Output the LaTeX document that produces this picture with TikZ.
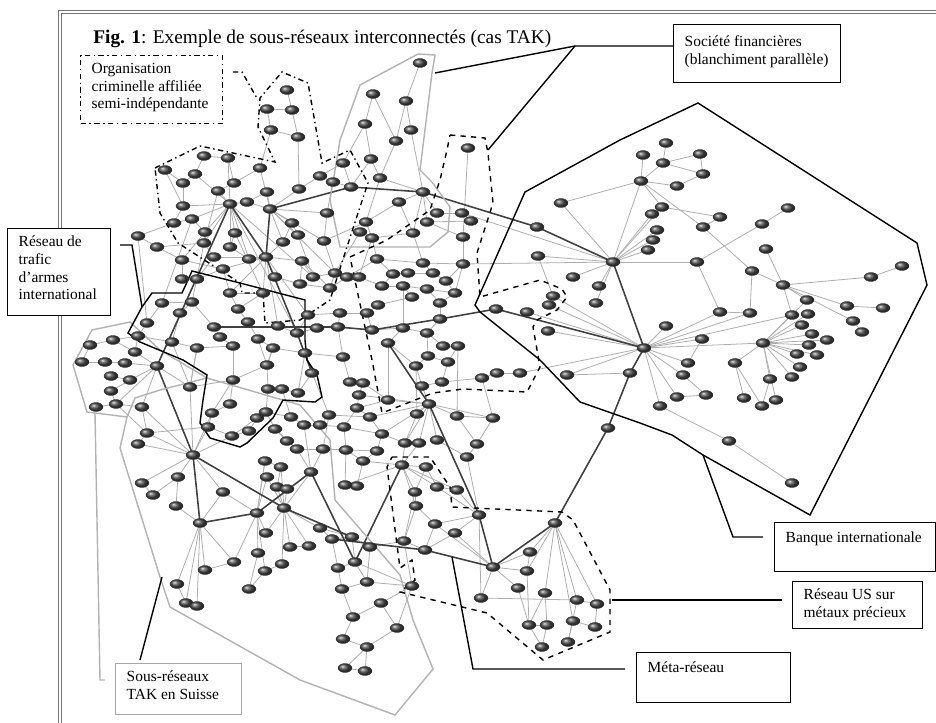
\documentclass[tikz,border=0pt]{standalone}
\usepackage{fontspec}
\setmainfont{Liberation Serif}
\usetikzlibrary{shapes.geometric}
\newcommand{\labelfont}{\fontsize{8.8}{10}\selectfont}
\newcommand{\labeltext}[3]{\parbox[c][#2][t]{#1}{\raggedright #3}}

\begin{document}
\begin{tikzpicture}[x=0.02cm, y=-0.02cm,
  actor/.style={ellipse, inner sep=0pt, minimum width=0.28cm, minimum height=0.18cm,
    ball color=black!70, draw=black!80, line width=0.2pt},
  link/.style={draw=black!32, line width=0.45pt},
  meta/.style={draw=black!75, line width=0.9pt},
  zone/.style={draw=black, line width=0.8pt},
  grayzone/.style={draw=black!30, line width=0.8pt},
  leader/.style={draw=black, line width=0.8pt},
  labelbox/.style={draw, fill=white, anchor=north west, inner xsep=0.22cm,
    inner ysep=0.15cm, line width=0.8pt, font=\labelfont}]

  \useasboundingbox (0,0) rectangle (936,723);

  % actors
  \foreach \n/\x/\y in {o1/287/90, o2/267/109, o3/292/110, o4/271/130, o5/298/137,
    t1/204/156, t2/228/158, t3/260/168, t4/165/170, t5/195/174, t6/183/183, t7/234/183,
    t8/218/191, t9/267/192, t10/299/189, t11/320/176, t12/333/182, t13/343/163, t14/351/187,
    t15/183/206, t16/230/204, t17/247/202, t18/270/209, t19/327/213, t20/174/223, t21/192/219,
    t22/205/232, t23/235/233, t24/292/223, t25/138/236, t26/157/247, t27/204/243, t28/230/247,
    t29/283/242, t30/298/235, t31/324/241, t32/214/257, t33/249/259, t34/266/257, t35/302/261,
    t36/182/260, t37/223/269, t38/275/277, t39/300/284, t40/313/277, t41/335/273, t42/182/279,
    t43/197/279, t44/230/293, t45/263/293, t46/330/288, t48/162/303, t49/192/302, t50/238/309,
    t51/308/315, t52/340/313, t53/147/323, t54/248/322, t55/214/327, t56/278/326, t57/297/333,
    t58/317/328, t59/338/327, t60/138/336, t61/220/337, t62/258/339, t63/172/342, t64/197/348,
    t65/233/346, t66/273/348, t67/305/353, t68/343/357, t69/267/365, t70/180/313}
    \coordinate (\n) at (\x,\y);
  \foreach \n/\x/\y in {l1/90/345, l2/113/340, l3/135/352, l4/82/362, l5/105/362, l6/125/363,
    l7/157/366, l8/111/376, l9/130/380, l10/111/391, l11/96/407, l12/116/404, l13/142/407,
    l14/190/387,
    s1/420/63, s2/373/94, s3/406/101, s4/365/124, s5/411/130, s6/396/141, s7/371/159,
    s8/380/178, s9/423/192, s10/399/202, s11/437/213, s12/366/222, s13/427/222, s14/360/232,
    s15/372/238, s16/413/233, s17/468/148, s18/462/213, s19/471/221, s20/463/237}
    \coordinate (\n) at (\x,\y);
  \foreach \n/\x/\y in {c1/377/259, c2/423/263, c3/463/264, c4/347/277, c5/359/277, c6/393/274,
    c7/408/273, c8/433/273, c9/446/281, c11/382/286, c12/403/286, c13/427/289, c14/455/293,
    c15/412/297, c16/378/305, c17/440/303, c18/367/313, c19/440/319, c20/372/330, c21/403/328,
    c22/427/333, c25/388/343, c26/443/346, c27/458/346, c28/428/356, c29/448/362, c30/416/366,
    c31/350/382, c32/363/383, c33/422/386, c34/442/382, c35/482/378, c36/497/373, c37/520/373,
    c38/388/400, c39/359/395, c40/357/408, c41/370/417, c42/429/404, c43/417/414, c44/457/416,
    c45/493/418, c46/344/427, c47/382/434, c48/405/443, c49/419/443, c50/437/440, c51/477/444,
    c52/467/457, c54/377/451, c55/363/461, c56/402/465, c57/426/467, c59/357/486, c60/437/487,
    c61/457/490, c62/415/492, c63/416/506, c64/479/515, c65/435/524, c66/455/533, c67/352/537,
    c68/370/547, c69/404/541, c70/425/550, c71/355/562, c72/367/582, c73/342/589, c74/412/586,
    c75/381/603, c76/353/617, c77/397/628, c78/343/639, c79/367/647, c80/345/668, c81/365/671}
    \coordinate (\n) at (\x,\y);
  \foreach \n/\x/\y in {m1/233/380, m3/268/389, m4/282/389, m5/298/393, m6/312/373, m7/230/404,
    m8/212/413, m9/266/412, m10/257/418, m11/291/417, m12/329/415, m13/208/427, m14/232/436,
    m15/249/431, m16/275/429, m17/304/425, m18/320/425, m20/147/433, m21/138/444, m22/193/455,
    m23/287/441, m24/297/449, m25/323/449, m26/346/450, m27/265/461, m28/281/467, m29/311/472,
    m30/267/477, m31/142/483, m32/178/477, m33/277/487, m34/287/489, m35/345/485, m36/153/495,
    m37/223/492, m38/176/506, m39/257/513, m40/284/508, m41/200/523, m42/266/533, m43/320/528,
    m45/332/539, m46/258/553, m47/290/547, m48/309/546, m49/234/562, m50/205/570, m51/282/564,
    m52/265/571, m53/338/568, m54/177/584, m55/249/589, m56/186/603, m57/197/606}
    \coordinate (\n) at (\x,\y);
  \foreach \n/\x/\y in {b1/666/143, b2/643/155, b3/663/163, b4/700/154, b5/703/174, b6/641/181,
    b7/677/186, b8/662/207, b9/652/214, b10/720/217, b11/703/227, b12/657/230, b13/653/240,
    b14/648/250, b15/613/262, b16/697/262, b17/762/224, b18/788/208, b19/720/312, b20/766/249,
    b21/752/271, b22/783/285, b23/750/313, b24/807/300, b25/871/277, b26/902/266, b27/847/306,
    b28/883/308, b29/853/321, b30/862/332, b31/792/315, b32/808/314, b33/802/325, b34/812/334,
    b35/827/340, b36/809/345, b37/797/354, b38/817/355, b39/800/367, b40/792/377, b41/763/343,
    b42/770/379, b43/735/363, b44/744/398, b45/762/406, b46/776/400, b48/644/348, b49/666/326,
    b50/702/339, b51/688/363, b52/683/375, b53/677/397, b54/660/406, b55/630/373, b56/706/395,
    b57/729/441, b58/792/483, b59/608/428, b60/561/203, b61/537/227, b62/538/256, b63/573/277,
    b64/599/286, b65/596/303, b66/553/296, b67/549/305, b68/496/309, b69/527/312, b70/548/331,
    b71/567/375,
    u1/555/523, u2/530/552, u3/493/567, u4/527/571, u5/518/588, u6/545/593, u7/481/598,
    u8/577/600, u9/597/604, u10/529/625, u11/547/625, u12/573/621, u13/595/627, u14/568/642,
    u15/542/647}
    \coordinate (\n) at (\x,\y);

  % light links
  \foreach \a/\b in {o1/o3, o2/o3, o2/o4, o3/o5, o4/o5, o5/t10, o4/t3,
    t1/t2, t1/t5, t4/t6, t5/t6, t2/t7, t3/t7, t7/t8, t8/t16, t6/t15, t15/t16, t16/t17, t17/t18,
    t3/t18, t9/t18, t10/t18, t11/t12, t12/t14, t13/t14, t13/t11, t10/t11, t16/t21, t16/t22,
    t16/t23, t16/t27, t16/t28, t16/t33, t15/t20, t20/t21, t21/t22, t22/t27, t18/t24, t18/t29,
    t18/t30, t18/t31, t18/t19, t24/t30, t25/t26, t26/t27, t27/t32, t28/t33, t33/t34, t29/t34,
    t34/t35, t34/t38, t34/t32, t34/t37, t34/t44, t34/t45, t34/t56, t35/t39, t35/t40, t40/t41,
    t41/t46, t39/t46, t36/t42, t36/t37, t42/t43, t43/t37, t37/t44, t44/t45, t44/t50, t45/t50,
    t38/t39, t48/t49, t49/t55, t53/t48, t53/t60, t60/t63, t63/t64, t64/t65, t55/t61, t61/t65,
    t50/t54, t54/t62, t62/t66, t56/t57, t57/t58, t58/t59, t51/t57, t51/t52, t52/t59, t59/t68,
    t67/t68, t66/t67, t57/t67, t62/t69, t66/t69, t70/t49, t70/t63, t24/t29, t31/t41, t30/t40,
    t19/t31, t23/t28, t9/t17, t12/t19, t22/t36, t26/t36, t20/t25, t32/t43, t35/t46, t16/t40,
    t18/t41, t16/t57, t34/t51, t21/t48, t25/t53, t27/t49, t23/t45, t2/t16, t4/t15, t5/t16, t8/t27}
    \draw[link] (\a) -- (\b);
  \foreach \a/\b in {l1/l2, l2/l3, l4/l5, l5/l6, l6/l7, l3/l7, l7/l9, l8/l9, l9/l10, l11/l12,
    l12/l13, l13/l7, l7/l14, l7/l12, l2/t60, l3/t60, l10/l12, l1/l4, l14/t63, l14/t64,
    s1/s3, s2/s4, s2/s6, s3/s5, s3/s6, s5/s9, s4/s7, s7/s8, s6/s8, s8/s9, s9/s10, s9/s11,
    s9/s13, s9/s16, s10/s16, s12/s15, s14/s15, s15/s16, s17/s20, s11/s18, s18/s19, s13/s19,
    s10/s12, s8/s12, s7/t14, s16/c2, s20/c3, s20/s13, s12/t31, s14/t41, s4/t13}
    \draw[link] (\a) -- (\b);
  \foreach \a/\b in {c1/c2, c2/c3, c1/c6, c6/c7, c7/c8, c8/c9, c2/c8, c4/c5, c5/c11, c6/c11,
    c11/c12, c12/c13, c13/c14, c9/c14, c12/c15, c15/c16, c16/c18, c13/c17, c17/c19, c14/c17,
    c18/c20, c20/c21, c21/c22, c19/c22, c21/c25, c22/c26, c26/c27, c22/c28, c28/c29, c28/c30,
    c27/c29, c25/c30, c30/c33, c33/c34, c29/c34, c34/c35, c35/c36, c36/c37, c31/c32, c32/c38,
    c38/c42, c33/c42, c42/c43, c42/c44, c42/c45, c42/c50, c42/c49, c42/c48, c42/c47, c42/c41,
    c42/c39, c39/c40, c40/c41, c41/c47, c46/c47, c47/c54, c48/c56, c49/c56, c50/c52, c51/c52,
    c44/c51, c45/c51, c54/c55, c55/c56, c56/c57, c56/c60, c56/c62, c56/c63, c56/c61, c56/m35,
    c60/c61, c62/c63, c63/c65, c64/c65, c64/c66, c64/c60, c64/c61, c64/c52, c67/c68, c68/c69,
    c69/c70, c70/c65, c71/c72, c72/c73, c71/c74, c74/c75, c75/c76, c76/c78, c77/c79, c78/c79,
    c79/c80, c80/c81, c75/c77, c73/c76, c71/c67, c69/c63, c70/c66, c12/c21, c3/c14, c1/c4,
    c5/t41, c4/t46, c20/t59, c31/t68, c32/c39, c38/c40, c25/c38, c27/c44, c44/c45, c35/c45,
    c1/s15, c5/s15, c18/t52, c46/m26, m26/c55, m35/c59, c59/c55, c40/c46, c47/c48, c43/c48,
    c30/c43, c57/c60, c57/c62, c72/c74, c68/c72, c69/c74, c62/c69, c9/c3, c77/c74, c81/c79}
    \draw[link] (\a) -- (\b);
  \foreach \a/\b in {m1/t69, t69/m3, m3/m4, m4/m5, m5/m6, m1/m7, m7/m8, m8/m13, m13/m14,
    m14/m15, m15/m10, m9/m10, m9/m11, m11/m17, m17/m18, m12/m18, m16/m9, m16/m23, m23/m24,
    m24/m25, m25/m26, m22/m13, m22/m20, m22/m21, m22/m14, m22/m31, m22/m32, m22/m37, m22/l14,
    m22/l13, m22/m8, m27/m39, m28/m40, m30/m40, m33/m40, m34/m40, m29/m40, m29/m24, m29/m25,
    m29/m17, m35/m26, m36/m32, m32/m38, m31/m36, m38/m41, m37/m39, m37/m41, m41/m50, m41/m54,
    m41/m49, m41/m56, m41/m57, m56/m57, m54/m56, m49/m50, m39/m46, m39/m49, m39/m52, m39/m42,
    m39/m30, m39/m27, m40/m42, m40/m47, m40/m48, m40/m51, m40/m43, m43/m45, m45/m53, m46/m55,
    m52/m55, m51/m52, m47/m48, m27/m28, m12/m25, m10/m14, m3/m9, m6/m12, m4/m11, m1/m8,
    m18/c46, m12/c41, m25/c54, m43/c67, m45/c67, m53/c71, m53/c73, t69/t66, t65/m1, t64/l14,
    l14/m1, l13/m20, l12/m20, m20/m21, t67/m6, m5/t67, m16/m24, m28/m33, m13/m20}
    \draw[link] (\a) -- (\b);
  \foreach \a/\b in {b1/b3, b2/b6, b3/b4, b3/b5, b4/b5, b3/b6, b6/b7, b5/b7, b6/b11, b6/b8,
    b8/b10, b8/b15, b9/b15, b12/b15, b13/b15, b14/b15, b6/b15, b15/b16, b16/b17, b17/b18,
    b16/b19, b11/b21, b20/b22, b21/b22, b21/b23, b22/b24, b22/b25, b25/b26, b22/b27, b27/b28,
    b22/b29, b29/b30, b22/b31, b41/b31, b41/b32, b41/b33, b41/b34, b41/b35, b41/b36, b41/b37,
    b41/b38, b41/b39, b41/b40, b41/b42, b41/b43, b41/b46, b42/b45, b43/b44, b43/b45, b48/b49,
    b48/b50, b48/b51, b48/b52, b48/b53, b48/b54, b48/b19, b48/b23, b48/b31, b48/b41, b50/b51,
    b52/b56, b53/b56, b54/b57, b57/b58, b6/b60, b15/b60, b15/b62, b15/b63, b15/b64, b15/b65,
    b15/s18, b15/c3, b48/b66, b48/b67, b48/b69, b48/b70, b48/b71, b48/c37, b62/b66, b19/b23,
    b10/b11, b55/b71, b41/b24,
    u1/u2, u1/u4, u1/u6, u1/u8, u1/u9, u1/u12, u3/u2, u3/u5, u3/u4, u3/u7, u5/u10, u4/u10,
    u6/u11, u7/u8, u8/u9, u8/u14, u9/u13, u10/u11, u10/u15, u11/u15, u12/u14, u3/c66, u3/c65,
    u2/u4, c64/u7, u6/u10, u13/u12}
    \draw[link] (\a) -- (\b);

  % meta-network
  \foreach \a/\b in {t18/t14, t14/s9, s9/b61, b61/b15, b15/b48, b48/b55, b55/b59, b59/u1,
    u1/u3, u3/c70, c70/m45, u3/c64, c64/c42, c42/c25, b48/b68, b68/c19, c19/c20, c20/t59,
    t59/t55, t16/l7, t16/t34, t34/t18, t34/t57, t57/m6, m22/l7, m22/m41, m41/m39, m39/m29,
    m22/m40, m40/c67, m29/c71, c56/c71}
    \draw[meta] (\a) -- (\b);

  % sub-network outlines
  \draw[grayzone] (360,85) -- (418,54) -- (435,55) -- (432,73) -- (420,170) -- (432,182)
    -- (450,207) -- (448,232) -- (430,247) -- (340,247) -- (330,200) -- (340,140) -- cycle;
  \draw[grayzone] (73,365) -- (92,330) -- (130,322) -- (160,350) -- (207,378) -- (300,405)
    -- (330,440) -- (335,500) -- (400,575) -- (413,620) -- (433,669) -- (395,715)
    -- (300,680) -- (170,607) -- (160,577) -- (120,448) -- (127,417) -- (87,412) -- cycle;
  \draw[grayzone] (127,417) -- (135,398) -- (160,390) -- (207,378);
  \draw[zone, dash dot] (155,168) -- (200,146) -- (275,162) -- (258,127) -- (260,98)
    -- (282,72) -- (308,83) -- (322,163) -- (350,150) -- (368,183) -- (360,207) -- (345,253)
    -- (330,300) -- (300,320) -- (265,323) -- (263,293) -- (242,293) -- (240,283)
    -- (178,243) -- (160,213) -- cycle;
  \draw[zone] (142,307) -- (152,293) -- (182,293) -- (192,271) -- (240,283) -- (305,300)
    -- (305,340) -- (307,360) -- (317,375) -- (322,397) -- (315,402) -- (283,400) -- (273,418)
    -- (247,443) -- (240,447) -- (210,438) -- (200,423) -- (203,400) -- (207,375) -- (183,360)
    -- (140,342) -- (128,333) -- cycle;
  \draw[zone, dashed] (450,135) -- (485,138) -- (488,153) -- (493,203) -- (477,253)
    -- (480,297) -- (540,280) -- (562,289) -- (567,297) -- (557,310) -- (537,320) -- (533,327)
    -- (540,367) -- (527,392) -- (463,389) -- (433,393) -- (382,413) -- (372,360) -- (350,257)
    -- (387,240) -- (430,210) -- (440,180) -- (447,150) -- cycle;
  \draw[zone, dashed] (392,457) -- (430,457) -- (450,487) -- (452,507) -- (562,512)
    -- (573,520) -- (610,590) -- (610,632) -- (543,660) -- (487,613) -- (400,592) -- (415,580)
    -- (412,560) -- (400,568) -- (387,467) -- cycle;
  \draw[zone] (698,103) -- (917,243) -- (927,285) -- (810,515) -- (703,455) -- (672,435)
    -- (640,423) -- (580,402) -- (540,360) -- (480,312) -- (475,305) -- (525,192)
    -- (620,140) -- cycle;

  % nodes on top
  \foreach \n in {o1,o2,o3,o4,o5,t1,t2,t3,t4,t5,t6,t7,t8,t9,t10,t11,t12,t13,t14,t15,t16,t17,
    t18,t19,t20,t21,t22,t23,t24,t25,t26,t27,t28,t29,t30,t31,t32,t33,t34,t35,t36,t37,t38,t39,
    t40,t41,t42,t43,t44,t45,t46,t48,t49,t50,t51,t52,t53,t54,t55,t56,t57,t58,t59,t60,t61,t62,
    t63,t64,t65,t66,t67,t68,t69,t70,l1,l2,l3,l4,l5,l6,l7,l8,l9,l10,l11,l12,l13,l14,
    s1,s2,s3,s4,s5,s6,s7,s8,s9,s10,s11,s12,s13,s14,s15,s16,s17,s18,s19,s20}
    \node[actor] at (\n) {};
  \foreach \n in {c1,c2,c3,c4,c5,c6,c7,c8,c9,c11,c12,c13,c14,c15,c16,c17,c18,c19,c20,c21,c22,
    c25,c26,c27,c28,c29,c30,c31,c32,c33,c34,c35,c36,c37,c38,c39,c40,c41,c42,c43,c44,c45,c46,
    c47,c48,c49,c50,c51,c52,c54,c55,c56,c57,c59,c60,c61,c62,c63,c64,c65,c66,c67,c68,c69,c70,
    c71,c72,c73,c74,c75,c76,c77,c78,c79,c80,c81,m1,m3,m4,m5,m6,m7,m8,m9,m10,m11,m12,m13,m14,
    m15,m16,m17,m18,m20,m21,m22,m23,m24,m25,m26,m27,m28,m29,m30,m31,m32,m33,m34,m35,m36,m37,
    m38,m39,m40,m41,m42,m43,m45,m46,m47,m48,m49,m50,m51,m52,m53,m54,m55,m56,m57}
    \node[actor] at (\n) {};
  \foreach \n in {b1,b2,b3,b4,b5,b6,b7,b8,b9,b10,b11,b12,b13,b14,b15,b16,b17,b18,b19,b20,b21,
    b22,b23,b24,b25,b26,b27,b28,b29,b30,b31,b32,b33,b34,b35,b36,b37,b38,b39,b40,b41,b42,b43,
    b44,b45,b46,b48,b49,b50,b51,b52,b53,b54,b55,b56,b57,b58,b59,b60,b61,b62,b63,b64,b65,b66,
    b67,b68,b69,b70,b71,u1,u2,u3,u4,u5,u6,u7,u8,u9,u10,u11,u12,u13,u14,u15}
    \node[actor] at (\n) {};

  % page frame
  \draw[black!55, line width=0.6pt, double=white, double distance=0.9pt]
    (60,723) -- (60,12) -- (936,12);

  % title and labels
  \node[anchor=west, inner sep=0pt, font=\fontsize{11}{13}\selectfont] (title) at (93,39)
    {\textbf{Fig. 1}: Exemple de sous-réseaux interconnectés (cas TAK)};
  \node[labelbox, dash dot] (orgbox) at (80,55)
    {\labeltext{2.4cm}{1.06cm}{Organisation\\criminelle affiliée\\semi-indépendante}};
  \node[labelbox] (armbox) at (7,228)
    {\labeltext{1.62cm}{1.44cm}{Réseau de\\trafic\\d'armes\\international}};
  \node[labelbox] (socbox) at (673,24)
    {\labeltext{2.9cm}{0.86cm}{\vspace*{2pt}Société financières\\(blanchiment parallèle)}};
  \node[labelbox] (bankbox) at (774,522)
    {\labeltext{2.78cm}{0.68cm}{\vspace*{1pt}Banque internationale}};
  \node[labelbox] (usbox) at (792,581)
    {\labeltext{2.16cm}{0.64cm}{Réseau US sur\\métaux précieux}};
  \node[labelbox] (metabox) at (636,652)
    {\labeltext{2.64cm}{0.7cm}{\vspace*{1pt}Méta-réseau}};
  \node[labelbox, draw=black!35] (swissbox) at (115,663)
    {\labeltext{2.08cm}{0.72cm}{Sous-réseaux\\TAK en Suisse}};

  % leaders
  \coordinate (orgA) at (233,72);   \coordinate (orgB) at (242,72);
  \coordinate (orgC) at (258,100);
  \coordinate (socA) at (575,46);   \coordinate (socB) at (435,73);
  \coordinate (socC) at (488,150);
  \coordinate (armA) at (120,245);  \coordinate (armB) at (132,245);
  \coordinate (armC) at (142,307);
  \coordinate (bankA) at (763,537); \coordinate (bankB) at (733,537);
  \coordinate (bankC) at (703,455);
  \coordinate (usA) at (782,600);   \coordinate (usB) at (612,600);
  \coordinate (metaA) at (625,669); \coordinate (metaB) at (473,669);
  \coordinate (metaC) at (452,557);
  \coordinate (swA) at (140,660);   \coordinate (swB) at (162,577);
  \coordinate (swC) at (105,680);   \coordinate (swD) at (100,680);
  \coordinate (swE) at (95,413);

  \draw[leader, dash dot] (orgA) -- (orgB) -- (orgC);
  \draw[leader] (socbox.west |- socA) -- (socA) -- (socB);
  \draw[leader] (socA) -- (socC);
  \draw[leader] (armA) -- (armB) -- (armC);
  \draw[leader] (bankA) -- (bankB) -- (bankC);
  \draw[leader] (usA) -- (usB);
  \draw[leader] (metaA) -- (metaB) -- (metaC);
  \draw[leader] (swA) -- (swB);
  \draw[grayzone] (swC) -- (swD) -- (swE);
\end{tikzpicture}
\end{document}
